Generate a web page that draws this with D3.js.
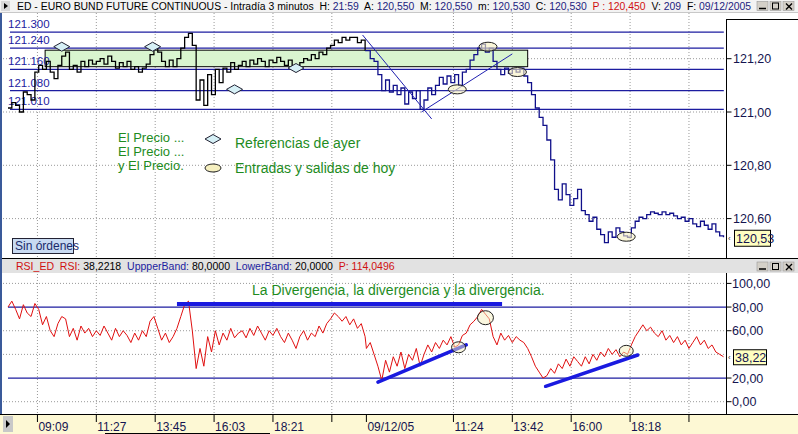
<!DOCTYPE html>
<html><head><meta charset="utf-8">
<script src="https://cdn.jsdelivr.net/npm/d3@7"></script>
<style>body{margin:0;background:#fff;overflow:hidden}svg{display:block;font-family:"Liberation Sans",Arial,sans-serif}</style>
</head><body><svg id="c" width="798" height="434"></svg>
<script>
// ---------- DATA (3-minute bars, one value every 3 bars) ----------
const priceDay1 = [121.015,121.035,121.025,121.000,121.075,121.065,121.045,121.150,121.175,121.160,
121.190,121.150,121.125,121.175,121.210,121.225,121.160,121.175,121.150,121.190,
121.170,121.195,121.180,121.190,121.200,121.180,121.210,121.190,121.165,121.185,
121.170,121.190,121.160,121.170,121.150,121.165,121.180,121.215,121.240,121.225,
121.190,121.170,121.195,121.170,121.200,121.240,121.280,121.295,121.250,121.045,
121.120,121.025,121.140,121.065,121.160,121.110,121.165,121.150,121.185,121.160,
121.175,121.190,121.170,121.195,121.180,121.200,121.190,121.170,121.195,121.185,
121.205,121.190,121.175,121.195,121.170,121.160,121.185,121.200,121.195,121.215,
121.200,121.225,121.215,121.240,121.250,121.270,121.260,121.280,121.270,121.280,
121.280,121.260,121.270,121.230];
const priceDay2 = [121.230,121.200,121.190,121.140,121.080,121.120,121.075,121.100,121.065,121.090,
121.030,121.075,121.050,121.080,121.010,121.045,121.090,121.065,121.100,121.130,
121.105,121.135,121.110,121.140,121.100,121.150,121.160,121.195,121.215,121.240,
121.255,121.225,121.240,121.190,121.160,121.140,121.165,121.145,121.160,121.150,
121.165,121.135,121.110,121.065,121.015,120.980,120.950,120.895,120.820,120.710,
120.670,120.730,120.690,120.650,120.675,120.710,120.630,120.615,120.590,120.605,
120.560,120.540,120.510,120.550,120.530,120.565,120.550,120.535,120.530,120.565,
120.590,120.605,120.600,120.615,120.625,120.620,120.615,120.625,120.615,120.620,
120.610,120.600,120.605,120.590,120.600,120.580,120.570,120.590,120.575,120.560,
120.580,120.550,120.535,120.530];
const rsiDay1 = [80,85,78,70,82,75,72,83,78,65, 72,60,55,66,72,70,55,62,52,64,
58,62,55,60,56,64,58,52,62,55, 60,56,50,58,52,60,55,68,72,62,
52,58,50,55,62,72,82,85,60,28, 45,30,55,42,60,48,58,52,62,54,
58,60,54,62,56,64,58,52,60,56, 62,55,50,58,52,45,55,60,52,58,
55,64,58,66,70,75,72,68,72,65, 70,62,66,55];
const rsiDay2 = [45,50,40,30,18,35,25,38,30,42, 28,40,35,45,30,40,48,42,50,45,
52,48,55,46,48,56,58,65,68,72, 78,74,70,55,48,58,52,56,50,55,
52,50,45,38,30,25,20,22,28,24, 32,28,36,30,38,34,30,38,32,40,
35,42,38,45,40,44,38,42,40,48, 55,60,65,60,63,58,55,60,52,56,
50,55,48,52,45,50,55,48,52,45, 48,42,40,38];
const barStep = 3, barsPerDay = 280;
const levelPrices = [121.30, 121.24, 121.16, 121.08, 121.01];
const levelLabels = ["121.300","121.240","121.160","121.080","121.010"];
const zonePrices = [121.170, 121.232];
const zoneBars = [29, 406];
const priceTicks = [121.2, 121.0, 120.8, 120.6];
const priceTickLabels = ["121,20","121,00","120,80","120,60"];
const rsiTicks = [100, 80, 60, 20, 0];
const rsiTickLabels = ["100,00","80,00","60,00","20,00","0,00"];
const rsiGrid = [100, 60, 40, 0];
const rsiBands = [80, 20];
const timeTickBars = [23,69,115,161,207,253,280,348,394,440,486,532];
const timeTickLabels = ["09:09","11:27","13:45","16:03","18:21","","09/12/05","11:24","13:42","16:00","18:18",""];
const diamondBars = [42,113,177,225];
const diamondPrices = [121.245,121.245,121.085,121.165];
const ellipseBars = [351,375,398,483];
const ellipsePrices = [121.085,121.245,121.150,120.532];
const rsiEllipseBars = [352,373,483];
const rsiEllipseValues = [46,71,43];
const trendBars = [[277,331],[323,394]];
const trendPrices = [[121.289,120.974],[121.000,121.218]];
const rsiTrendBars = [[289,358],[420,492]];
const rsiTrendValues = [[16.5,48],[13,39.5]];
const rsiTopLineBars = [132,386];
const rsiTopLineValue = 82.5;
const lastPrice = "120,53", lastRsi = "38,22";

// ---------- SCALES ----------
const svg = d3.select("#c");
const x = d3.scaleLinear().domain([0, 560]).range([8, 724.8]);
const yP = d3.scaleLinear().domain([121, 121.2]).range([112, 58.7]);
const yR = d3.scaleLinear().domain([0, 100]).range([401.7, 283.4]);
const AX = 726.5;

const d1 = priceDay1.map((v,i)=>({b:i*barStep, v}));
const d2 = priceDay2.map((v,i)=>({b:barsPerDay+i*barStep, v}));
const r1 = rsiDay1.map((v,i)=>({b:i*barStep, v}));
const r2 = rsiDay2.map((v,i)=>({b:barsPerDay+i*barStep, v}));

svg.append("rect").attr("width",798).attr("height",434).attr("fill","#fff");

const defs = svg.append("defs");
defs.append("clipPath").attr("id","cp1").append("rect").attr("x",3).attr("y",13).attr("width",AX-3).attr("height",245);
defs.append("clipPath").attr("id","cp2").append("rect").attr("x",3).attr("y",274).attr("width",AX-3).attr("height",139);

// fit a text to a target width by adjusting font size
function fit(sel, target){ const w = sel.node().getComputedTextLength(); const fs = parseFloat(sel.attr("font-size")); sel.attr("font-size", (fs*target/w).toFixed(2)); }

const dot = "1,2";
// ---------- TOP PANEL ----------
const g1 = svg.append("g").attr("clip-path","url(#cp1)");
timeTickBars.forEach((b,i)=>{ if(i!==6) g1.append("line").attr("x1",x(b)).attr("x2",x(b)).attr("y1",13).attr("y2",258).attr("stroke","#999").attr("stroke-dasharray",dot); });
priceTicks.forEach(p=>g1.append("line").attr("x1",3).attr("x2",AX).attr("y1",yP(p)).attr("y2",yP(p)).attr("stroke","#999").attr("stroke-dasharray",dot));
g1.append("rect").attr("x",x(zoneBars[0])).attr("width",x(zoneBars[1])-x(zoneBars[0]))
  .attr("y",yP(zonePrices[1])).attr("height",yP(zonePrices[0])-yP(zonePrices[1]))
  .attr("fill","#d9f5cf").attr("stroke","#000").attr("stroke-width",1);
levelPrices.forEach(p=>g1.append("line").attr("x1",x(0)+2).attr("x2",x(560)-1).attr("y1",yP(p)).attr("y2",yP(p)).attr("stroke","#1c1ca0").attr("stroke-width",1.2));
levelLabels.forEach((t,i)=>g1.append("text").attr("x",8).attr("y",yP(levelPrices[i])-4).attr("font-size",11.5).attr("fill","#1c1ca0").text(t));
const lineP = d3.line().x(d=>x(d.b)).y(d=>yP(d.v)).curve(d3.curveStepAfter);
g1.append("path").datum(d1).attr("d",lineP).attr("fill","none").attr("stroke","#000").attr("stroke-width",1.3);
g1.append("path").datum([d1[d1.length-1],...d2]).attr("d",lineP).attr("fill","none").attr("stroke","#10108a").attr("stroke-width",1.3);
trendBars.forEach((tb,i)=>g1.append("line").attr("x1",x(tb[0])).attr("x2",x(tb[1])).attr("y1",yP(trendPrices[i][0])).attr("y2",yP(trendPrices[i][1])).attr("stroke","#2020b0").attr("stroke-width",1));
diamondBars.forEach((b,i)=>{const cx=x(b), cy=yP(diamondPrices[i]);
  g1.append("path").attr("d",`M${cx-8},${cy}L${cx},${cy-4.5}L${cx+8},${cy}L${cx},${cy+4.5}Z`).attr("fill","#d6f0f6").attr("stroke","#223").attr("stroke-width",1);});
ellipseBars.forEach((b,i)=>g1.append("ellipse").attr("cx",x(b)).attr("cy",yP(ellipsePrices[i])).attr("rx",9).attr("ry",4.5).attr("fill","#f6f0c0").attr("fill-opacity",0.6).attr("stroke","#222").attr("stroke-width",1));

const green = "#1e8c1e";
[["El Precio ...",142],["El Precio ...",156],["y El Precio.",170]].forEach(([t,yy])=>svg.append("text").attr("x",118).attr("y",yy).attr("font-size",13).attr("fill",green).text(t));
svg.append("path").attr("d","M205,139L213,134.5L221,139L213,143.5Z").attr("fill","#d6f0f6").attr("stroke","#223");
svg.append("ellipse").attr("cx",213).attr("cy",168).attr("rx",8).attr("ry",4).attr("fill","#f6f0c0").attr("stroke","#222");
svg.append("text").attr("x",235).attr("y",148).attr("font-size",14).attr("fill",green).text("Referencias de ayer");
svg.append("text").attr("x",235).attr("y",173).attr("font-size",14).attr("fill",green).text("Entradas y salidas de hoy");

svg.append("rect").attr("x",12.5).attr("y",238.5).attr("width",61).attr("height",15).attr("fill","#c8daf2").attr("stroke","#223");
svg.append("text").attr("x",15).attr("y",250).attr("font-size",12).attr("fill","#1a2a6a").text("Sin órdenes");

svg.append("line").attr("x1",AX).attr("x2",AX).attr("y1",19).attr("y2",258).attr("stroke","#000");
svg.append("line").attr("x1",AX).attr("x2",798).attr("y1",19.5).attr("y2",19.5).attr("stroke","#000");
priceTicks.forEach((p,i)=>{svg.append("line").attr("x1",AX).attr("x2",AX+5).attr("y1",yP(p)).attr("y2",yP(p)).attr("stroke","#000");
  svg.append("text").attr("x",733).attr("y",yP(p)+4.5).attr("font-size",12.5).attr("fill","#141450").text(priceTickLabels[i]);});
const lastPy = yP(priceDay2[priceDay2.length-1])+1;
svg.append("text").attr("x",728).attr("y",lastPy+3).attr("font-size",8).attr("fill","#333").text("‹");
svg.append("rect").attr("x",734.5).attr("y",lastPy-8).attr("width",36).attr("height",16).attr("fill","#ffffc0").attr("stroke","#000");
svg.append("text").attr("x",736).attr("y",lastPy+4.5).attr("font-size",12.5).attr("fill","#141450").text(lastPrice);

// ---------- TITLE BAR ----------
svg.append("rect").attr("x",0).attr("y",0).attr("width",798).attr("height",12).attr("fill","#f3f3f3");
svg.append("line").attr("x1",0).attr("x2",798).attr("y1",12.5).attr("y2",12.5).attr("stroke","#c8c8c8");
svg.append("rect").attr("x",1).attr("y",1).attr("width",9).attr("height",10).attr("fill","#d8d8d8");
svg.append("path").attr("d","M4,3L8,6L4,9Z").attr("fill","#000");
const title = svg.append("text").attr("x",17).attr("y",10).attr("font-size",11).attr("fill","#000");
[["ED - EURO BUND FUTURE CONTINUOUS - Intradía 3 minutos  H: ","#000"],["21:59","#1c1c80"],["  A: ","#000"],["120,550","#1c1c80"],
 ["  M: ","#000"],["120,550","#1c1c80"],["  m: ","#000"],["120,530","#1c1c80"],["  C: ","#000"],["120,530","#1c1c80"],
 ["  P : 120,450","#d01010"],["  V: ","#000"],["209","#1c1c80"],["  F: ","#000"],["09/12/2005","#1c1c80"]]
 .forEach(([t,c])=>title.append("tspan").attr("fill",c).attr("xml:space","preserve").text(t));
fit(title, 735);
function buttons(y){
  [757,770,783].forEach(bx=>{svg.append("rect").attr("x",bx).attr("y",y).attr("width",11).attr("height",9).attr("fill","#d4d0c8").attr("stroke","#999").attr("stroke-width",0.6);});
  svg.append("line").attr("x1",759).attr("x2",766).attr("y1",y+7).attr("y2",y+7).attr("stroke","#000").attr("stroke-width",1.5);
  svg.append("rect").attr("x",772.5).attr("y",y+1.5).attr("width",6).attr("height",6).attr("fill","none").attr("stroke","#000");
  svg.append("path").attr("d",`M786,${y+2}L792,${y+8}M792,${y+2}L786,${y+8}`).attr("stroke","#000").attr("stroke-width",1.4);
}
buttons(1.5);

// ---------- RSI PANEL ----------
svg.append("line").attr("x1",0).attr("x2",798).attr("y1",258.5).attr("y2",258.5).attr("stroke","#000");
svg.append("rect").attr("x",0).attr("y",259).attr("width",798).attr("height",14).attr("fill","#e2e2e2");
const rt = svg.append("text").attr("x",16).attr("y",270).attr("font-size",11);
[["RSI_ED  RSI: ","#d01010"],["38,2218  ","#000"],["UppperBand: ","#1c1ca0"],["80,0000  ","#000"],["LowerBand: ","#1c1ca0"],["20,0000  ","#000"],["P: 114,0496","#d01010"]]
 .forEach(([t,c])=>rt.append("tspan").attr("fill",c).attr("xml:space","preserve").text(t));
fit(rt, 379);
buttons(262);
const g2 = svg.append("g").attr("clip-path","url(#cp2)");
timeTickBars.forEach((b,i)=>{ if(i!==6) g2.append("line").attr("x1",x(b)).attr("x2",x(b)).attr("y1",274).attr("y2",413).attr("stroke","#999").attr("stroke-dasharray",dot); });
rsiGrid.forEach(v=>g2.append("line").attr("x1",3).attr("x2",AX).attr("y1",yR(v)).attr("y2",yR(v)).attr("stroke","#999").attr("stroke-dasharray",dot));
rsiBands.forEach(v=>g2.append("line").attr("x1",x(0)).attr("x2",AX).attr("y1",yR(v)).attr("y2",yR(v)).attr("stroke","#1c1ca0").attr("stroke-width",1.2));
const lineR = d3.line().x(d=>x(d.b)).y(d=>yR(d.v));
g2.append("path").datum([...r1,...r2]).attr("d",lineR).attr("fill","none").attr("stroke","#e01010").attr("stroke-width",1);
g2.append("line").attr("x1",x(rsiTopLineBars[0])).attr("x2",x(rsiTopLineBars[1])).attr("y1",yR(rsiTopLineValue)).attr("y2",yR(rsiTopLineValue)).attr("stroke","#1a1ae0").attr("stroke-width",4);
rsiTrendBars.forEach((tb,i)=>g2.append("line").attr("x1",x(tb[0])).attr("x2",x(tb[1])).attr("y1",yR(rsiTrendValues[i][0])).attr("y2",yR(rsiTrendValues[i][1])).attr("stroke","#1a1ae0").attr("stroke-width",3.5).attr("stroke-linecap","round"));
rsiEllipseBars.forEach((b,i)=>g2.append("ellipse").attr("cx",x(b)).attr("cy",yR(rsiEllipseValues[i])).attr("rx",i===1?8:7).attr("ry",i===1?7:5.5).attr("fill","#f6f0c0").attr("fill-opacity",0.5).attr("stroke","#222"));
svg.append("text").attr("x",252).attr("y",295).attr("font-size",14).attr("fill",green).text("La Divergencia, la divergencia y la divergencia.");

svg.append("line").attr("x1",AX).attr("x2",AX).attr("y1",273).attr("y2",414).attr("stroke","#000");
rsiTicks.forEach((v,i)=>{svg.append("line").attr("x1",AX).attr("x2",AX+5).attr("y1",yR(v)).attr("y2",yR(v)).attr("stroke","#000");
  svg.append("text").attr("x",732).attr("y",yR(v)+4.5).attr("font-size",12.5).attr("fill","#141450").text(rsiTickLabels[i]);});
const lastRy = yR(rsiDay2[rsiDay2.length-1]);
svg.append("text").attr("x",728).attr("y",lastRy+3).attr("font-size",8).attr("fill","#333").text("‹");
svg.append("rect").attr("x",733.5).attr("y",lastRy-7).attr("width",33).attr("height",15).attr("fill","#ffffc0").attr("stroke","#000");
svg.append("text").attr("x",735).attr("y",lastRy+5).attr("font-size",12.5).attr("fill","#141450").text(lastRsi);

svg.append("rect").attr("x",0).attr("y",13).attr("width",2).attr("height",401).attr("fill","#3a5a9a");

// ---------- TIME AXIS ----------
svg.append("rect").attr("x",0).attr("y",414).attr("width",798).attr("height",20).attr("fill","#fdf8d4");
svg.append("line").attr("x1",0).attr("x2",798).attr("y1",414.5).attr("y2",414.5).attr("stroke","#000");
svg.append("rect").attr("x",3).attr("y",416).attr("width",10).attr("height",16).attr("fill","#c8c8c8");
svg.append("path").attr("d","M6,420L10,424L6,428Z").attr("fill","#000");
timeTickBars.forEach((b,i)=>{svg.append("line").attr("x1",x(b)).attr("x2",x(b)).attr("y1",414).attr("y2",422).attr("stroke","#000");
  if(timeTickLabels[i]) svg.append("text").attr("x",x(b)+1).attr("y",431).attr("font-size",12).attr("fill","#141450").text(timeTickLabels[i]);});
svg.append("line").attr("x1",105).attr("x2",270).attr("y1",433.5).attr("y2",433.5).attr("stroke","#000");
</script></body></html>
